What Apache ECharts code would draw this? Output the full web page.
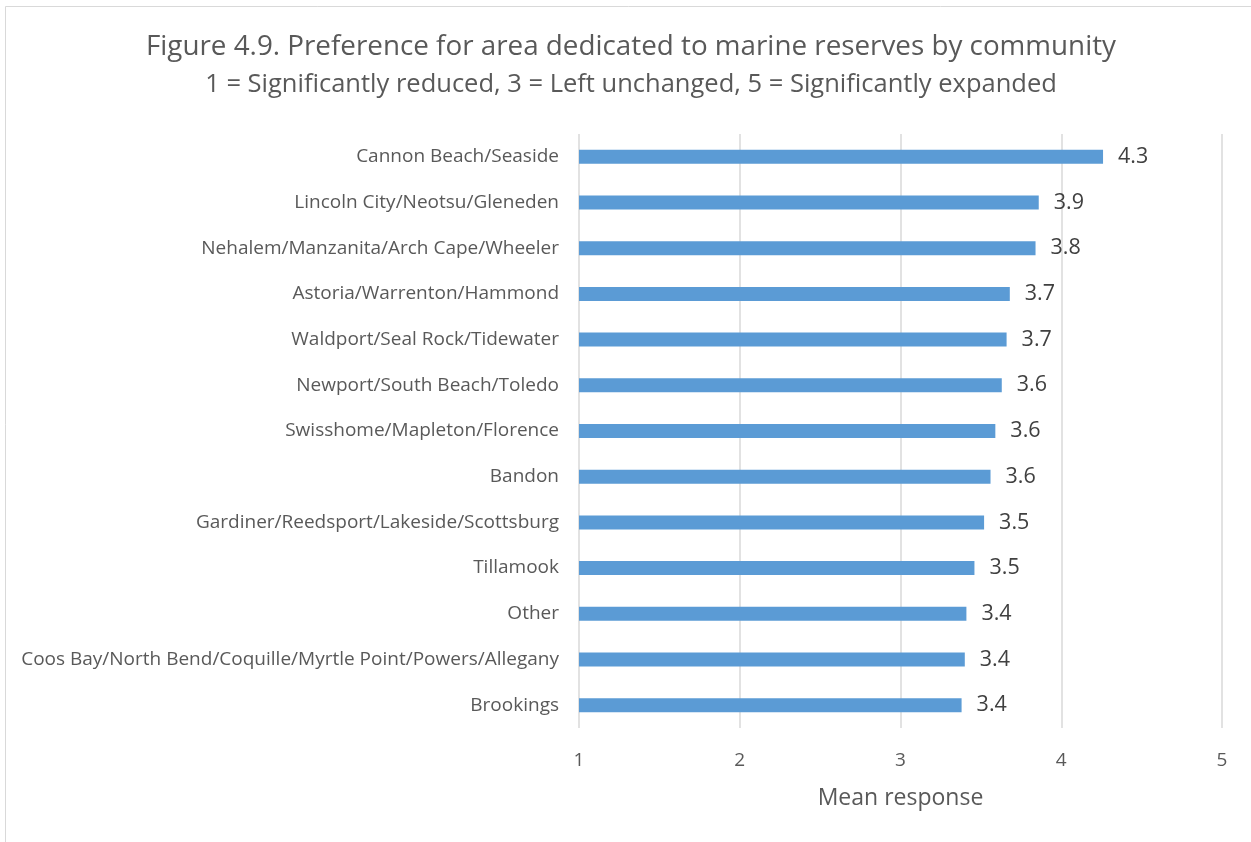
<!DOCTYPE html>
<html>
<head>
<meta charset="utf-8">
<script src="https://cdn.jsdelivr.net/npm/echarts@6/dist/echarts.min.js"></script>
<style>
  html, body { margin: 0; padding: 0; background: #ffffff; }
  #chart { width: 1251px; height: 842px; }
</style>
</head>
<body>
<div id="chart"></div>
<script>
// Communities, listed top to bottom
const communities = [
  'Cannon Beach/Seaside',
  'Lincoln City/Neotsu/Gleneden',
  'Nehalem/Manzanita/Arch Cape/Wheeler',
  'Astoria/Warrenton/Hammond',
  'Waldport/Seal Rock/Tidewater',
  'Newport/South Beach/Toledo',
  'Swisshome/Mapleton/Florence',
  'Bandon',
  'Gardiner/Reedsport/Lakeside/Scottsburg',
  'Tillamook',
  'Other',
  'Coos Bay/North Bend/Coquille/Myrtle Point/Powers/Allegany',
  'Brookings'
];

// Mean response (1-5 scale)
const meanResponse = [4.26, 3.86, 3.84, 3.68, 3.66, 3.63, 3.59, 3.56, 3.52, 3.46, 3.41, 3.40, 3.38];

const axisTicks = [1, 2, 3, 4, 5];

const titleText = 'Figure 4.9. Preference for area dedicated to marine reserves by community';
const subtitleText = '1 = Significantly reduced, 3 = Left unchanged, 5 = Significantly expanded';
const axisName = 'Mean response';

const FONT = '"Open Sans"';
const chart = echarts.init(document.getElementById('chart'), null, { renderer: 'canvas' });

chart.setOption({
  backgroundColor: '#ffffff',
  animation: false,
  graphic: [{
    type: 'rect',
    shape: { x: 5.5, y: 6.5, width: 1300, height: 900 },
    style: { fill: 'none', stroke: '#d9d9d9', lineWidth: 1 },
    silent: true
  }],
  title: [{
    text: titleText,
    left: 631,
    textAlign: 'center',
    top: 32,
    padding: 0,
    textStyle: { fontFamily: FONT, fontSize: 27.8, fontWeight: 'normal', color: '#595959', lineHeight: 30 }
  }, {
    text: subtitleText,
    left: 631,
    textAlign: 'center',
    top: 71,
    padding: 0,
    textStyle: { fontFamily: FONT, fontSize: 25.5, fontWeight: 'normal', color: '#595959', lineHeight: 28 }
  }],
  grid: { left: 579, right: 29, top: 134, height: 594 },
  xAxis: {
    type: 'value',
    min: axisTicks[0],
    max: axisTicks[axisTicks.length - 1],
    interval: 1,
    axisLine: { show: false },
    axisTick: { show: false },
    splitLine: { show: true, lineStyle: { color: '#d9d9d9', width: 1.5 } },
    axisLabel: { fontFamily: FONT, fontSize: 19, color: '#595959', margin: 23 },
    name: axisName,
    nameLocation: 'middle',
    nameGap: 59,
    nameTextStyle: { fontFamily: FONT, fontSize: 23, color: '#595959' }
  },
  yAxis: {
    type: 'category',
    data: communities,
    inverse: true,
    axisLine: { show: false },
    axisTick: { show: false },
    axisLabel: { fontFamily: FONT, fontSize: 19, color: '#595959', margin: 20 }
  },
  series: [{
    type: 'bar',
    data: meanResponse,
    barWidth: 14,
    itemStyle: { color: '#5b9bd5' },
    label: {
      show: true,
      position: 'right',
      distance: 15,
      fontFamily: FONT,
      fontSize: 21.5,
      color: '#404040',
      formatter: p => p.value.toFixed(1)
    }
  }]
});
</script>
</body>
</html>
